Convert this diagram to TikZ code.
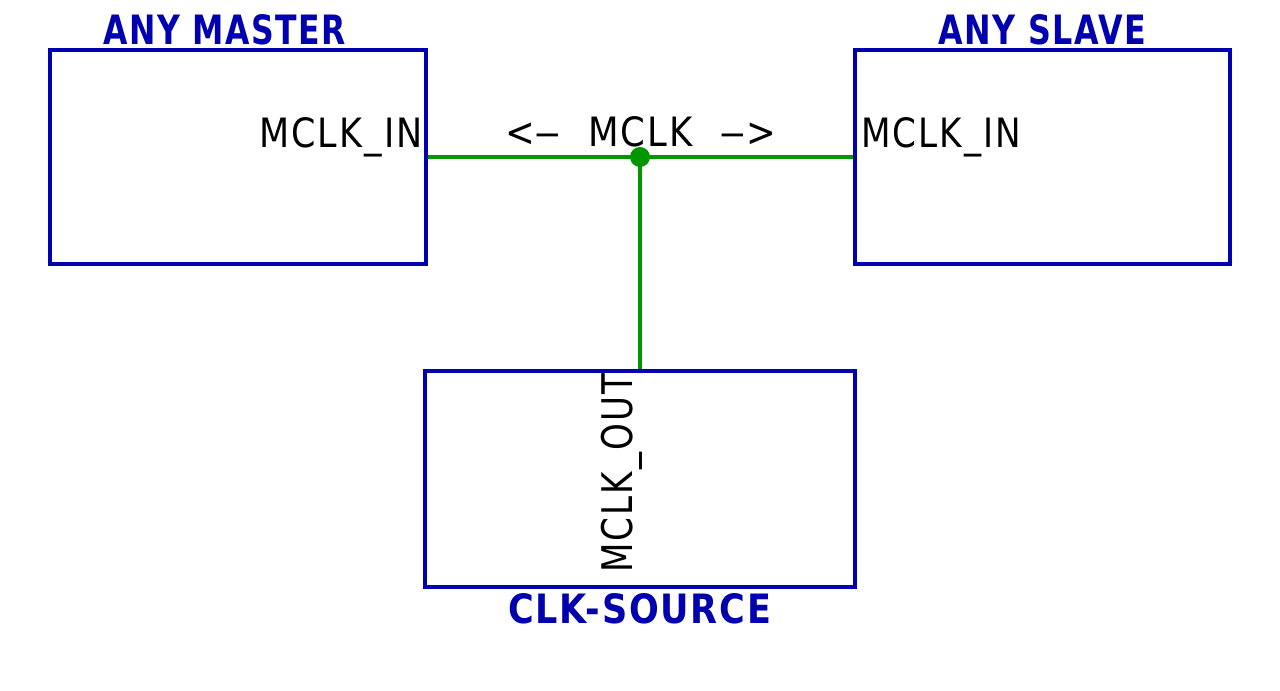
\documentclass[tikz,border=0pt]{standalone}
\usepackage{fontspec}
\setmainfont{DejaVu Sans}[LetterSpace=6]
\newfontfamily\titlefont{DejaVu Sans}[LetterSpace=5]
\usepackage{graphicx}
\definecolor{cadblue}{RGB}{0,0,176}
\definecolor{cadgreen}{RGB}{0,150,0}
\newcommand{\fitlbl}[3]{\resizebox{#1}{#2}{#3}}
\newcommand{\longdash}{\scalebox{1.5}[1]{–}}
\tikzset{
  blockbox/.style={draw=cadblue, line width=2.5pt, inner sep=0pt, fill=none},
  wire/.style={draw=cadgreen, line width=2.5pt},
  title/.style={text=cadblue, inner sep=0pt, font=\titlefont\bfseries},
  pin/.style={text=black, inner sep=0pt},
}
\begin{document}
\begin{tikzpicture}[x=0.75pt, y=-0.75pt]
\useasboundingbox (0,0) rectangle (1280,691);
\fill[white] (0,0) rectangle (1280,691);
% blocks
\node[blockbox, minimum width=282pt, minimum height=160.5pt] (master) at (238,157) {};
\node[blockbox, minimum width=281.25pt, minimum height=160.5pt] (slave) at (1042.5,157) {};
\node[blockbox, minimum width=322.5pt, minimum height=162pt] (source) at (640,479) {};
% titles
\node[title, anchor=base west] (tmaster) at (103,45) {\fitlbl{182pt}{22.5pt}{ANY MASTER}};
\node[title, anchor=base west] (tslave) at (938,45) {\fitlbl{156pt}{22.5pt}{ANY SLAVE}};
\node[title, anchor=base west] (tsource) at (508,623) {\fitlbl{197pt}{22.5pt}{CLK-SOURCE}};
% pin labels
\node[pin, anchor=base west] (pmaster) at (259,148) {\fitlbl{122.5pt}{22.5pt}{MCLK\_IN}};
\node[pin, anchor=base west] (pslave) at (861,148) {\fitlbl{120pt}{22.5pt}{MCLK\_IN}};
\node[pin, anchor=base west] (pnet) at (505,147) {\fitlbl{203pt}{22.5pt}{<\longdash\ \ MCLK\ \ \longdash>}};
\node[pin, anchor=base west, rotate=90] (psource) at (632,573) {\fitlbl{149pt}{23.5pt}{MCLK\_OUT}};
% wires
\coordinate (j) at (640,157);
\draw[wire] (master.east) -- (slave.west);
\draw[wire] (j) -- (source.north);
\fill[cadgreen] (j) circle (7.5pt);
\end{tikzpicture}
\end{document}
